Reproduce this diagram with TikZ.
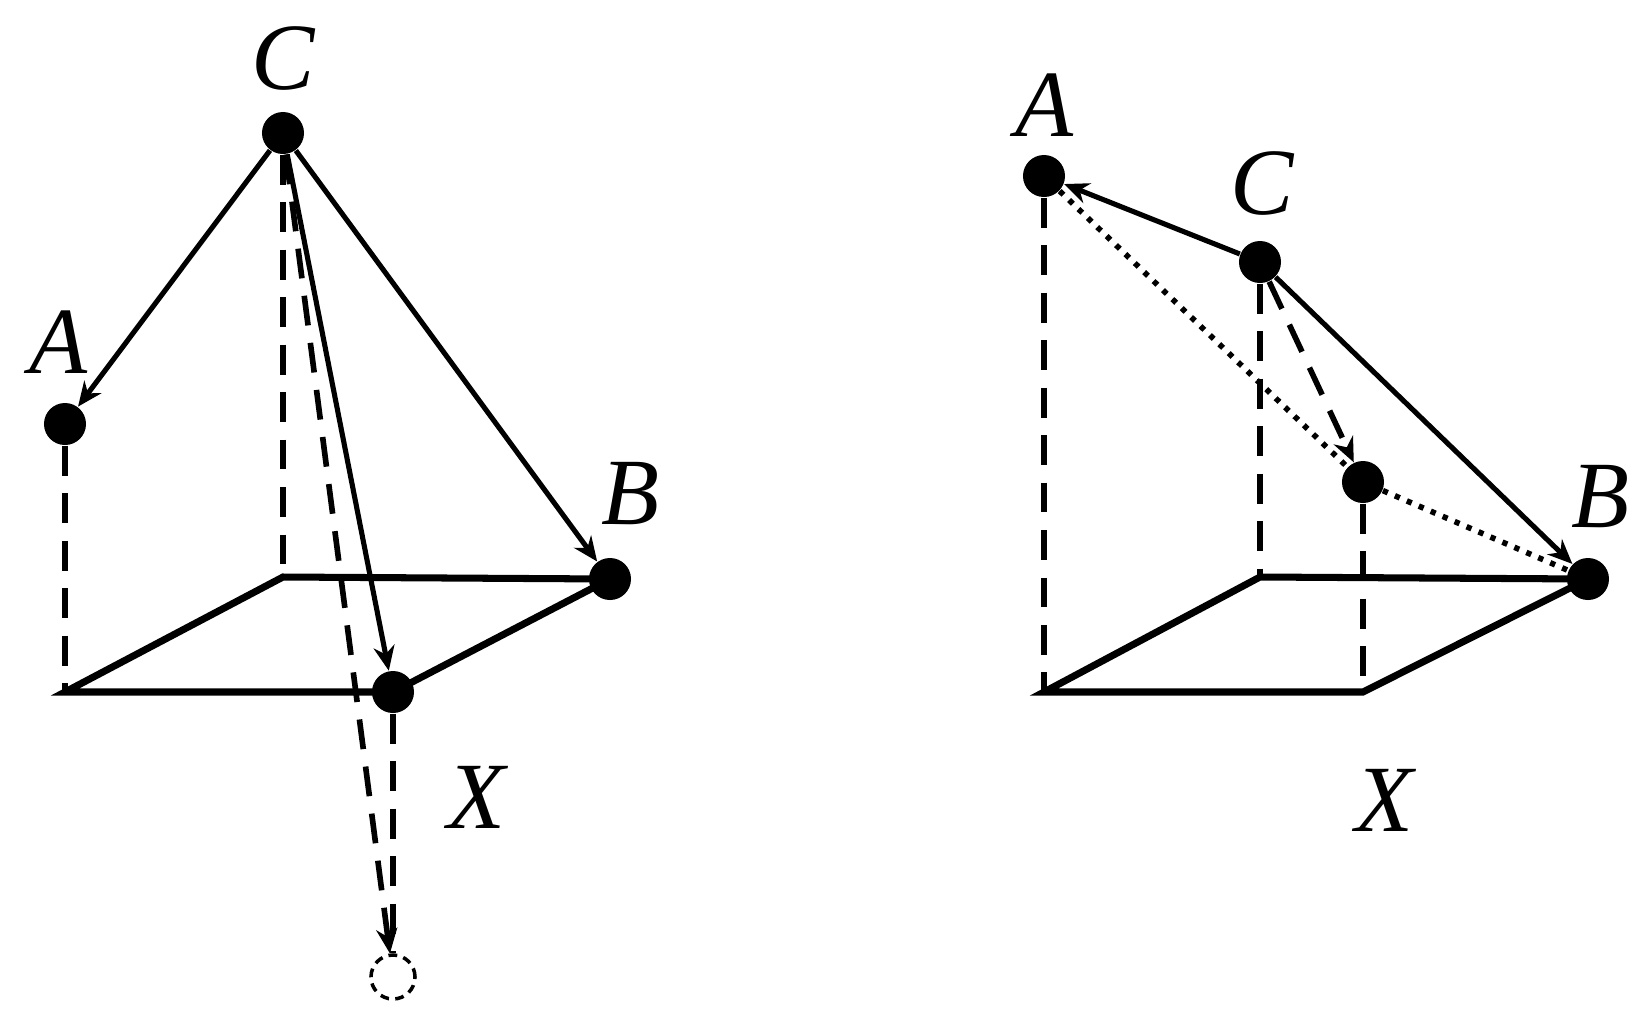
\documentclass[tikz,border=0pt]{standalone}
\usepackage{fontspec}
\setmainfont{Liberation Serif}
\usetikzlibrary{arrows.meta}
\begin{document}
\begin{tikzpicture}[x=0.01cm,y=-0.01cm,
  dot/.style={circle,fill=black,inner sep=0pt,minimum size=0.42cm},
  ghost/.style={circle,draw=black,line width=1pt,dash pattern=on 2.5pt off 1.8pt,inner sep=0pt,minimum size=0.44cm},
  lbl/.style={font=\fontsize{27}{27}\selectfont\itshape,inner sep=0pt},
  base/.style={line width=2pt},
  solidarr/.style={line width=1.45pt,-{Stealth[length=7pt,width=6pt]}},
  dasharr/.style={line width=1.6pt,dash pattern=on 8.5pt off 5pt,-{Stealth[length=7pt,width=6pt]}},
  dashv/.style={line width=1.6pt,dash pattern=on 8.5pt off 5pt},
  dotl/.style={line width=1.6pt,dash pattern=on 1.5pt off 2.2pt}]
\useasboundingbox (0,0) rectangle (1641,1017);
% ---------- left figure ----------
\coordinate (LBL) at (283,577);
\coordinate (LFL) at (65,692);
\node[dot] (LC) at (283,133) {};
\node[dot] (LA) at (65,424) {};
\node[dot] (LB) at (610,579) {};
\node[dot] (LX) at (393,692) {};
\node[ghost] (LG) at (393,977) {};
\node[lbl] (lC) at (283,58) {C};
\node[lbl] (lA) at (58,342) {A};
\node[lbl] (lB) at (630,494) {B};
\node[lbl] (lX) at (476,797) {X};
\draw[base] (LFL) -- (LX.center) -- (LB.center) -- (LBL) -- cycle;
\draw[dashv] (LA.south) -- (LFL);
\draw[dashv] (LC.south) -- (LBL);
\draw[dashv] (LX.south) -- (LG.north);
\draw[dasharr] (LC) -- (LG);
\draw[solidarr] (LC) -- (LA);
\draw[solidarr] (LC) -- (LB);
\draw[solidarr] (LC) -- (LX);
% ---------- right figure ----------
\coordinate (RBL) at (1260,577);
\coordinate (RFL) at (1044,692);
\coordinate (RFR) at (1363,692);
\node[dot] (RA) at (1044,176) {};
\node[dot] (RC) at (1260,262) {};
\node[dot] (RM) at (1363,482) {};
\node[dot] (RB) at (1588,579) {};
\node[lbl] (rA) at (1044,105) {A};
\node[lbl] (rC) at (1262,183) {C};
\node[lbl] (rB) at (1600,497) {B};
\node[lbl] (rX) at (1384,800) {X};
\draw[base] (RFL) -- (RFR) -- (RB.center) -- (RBL) -- cycle;
\draw[dashv] (RA.south) -- (RFL);
\draw[dashv] (RC.south) -- (RBL);
\draw[dashv] (RM.south) -- (RFR);
\draw[dotl] (RA) -- (RM);
\draw[dotl] (RM) -- (RB);
\draw[dasharr] (RC) -- (RM);
\draw[solidarr] (RC) -- (RA);
\draw[solidarr] (RC) -- (RB);
\end{tikzpicture}
\end{document}
